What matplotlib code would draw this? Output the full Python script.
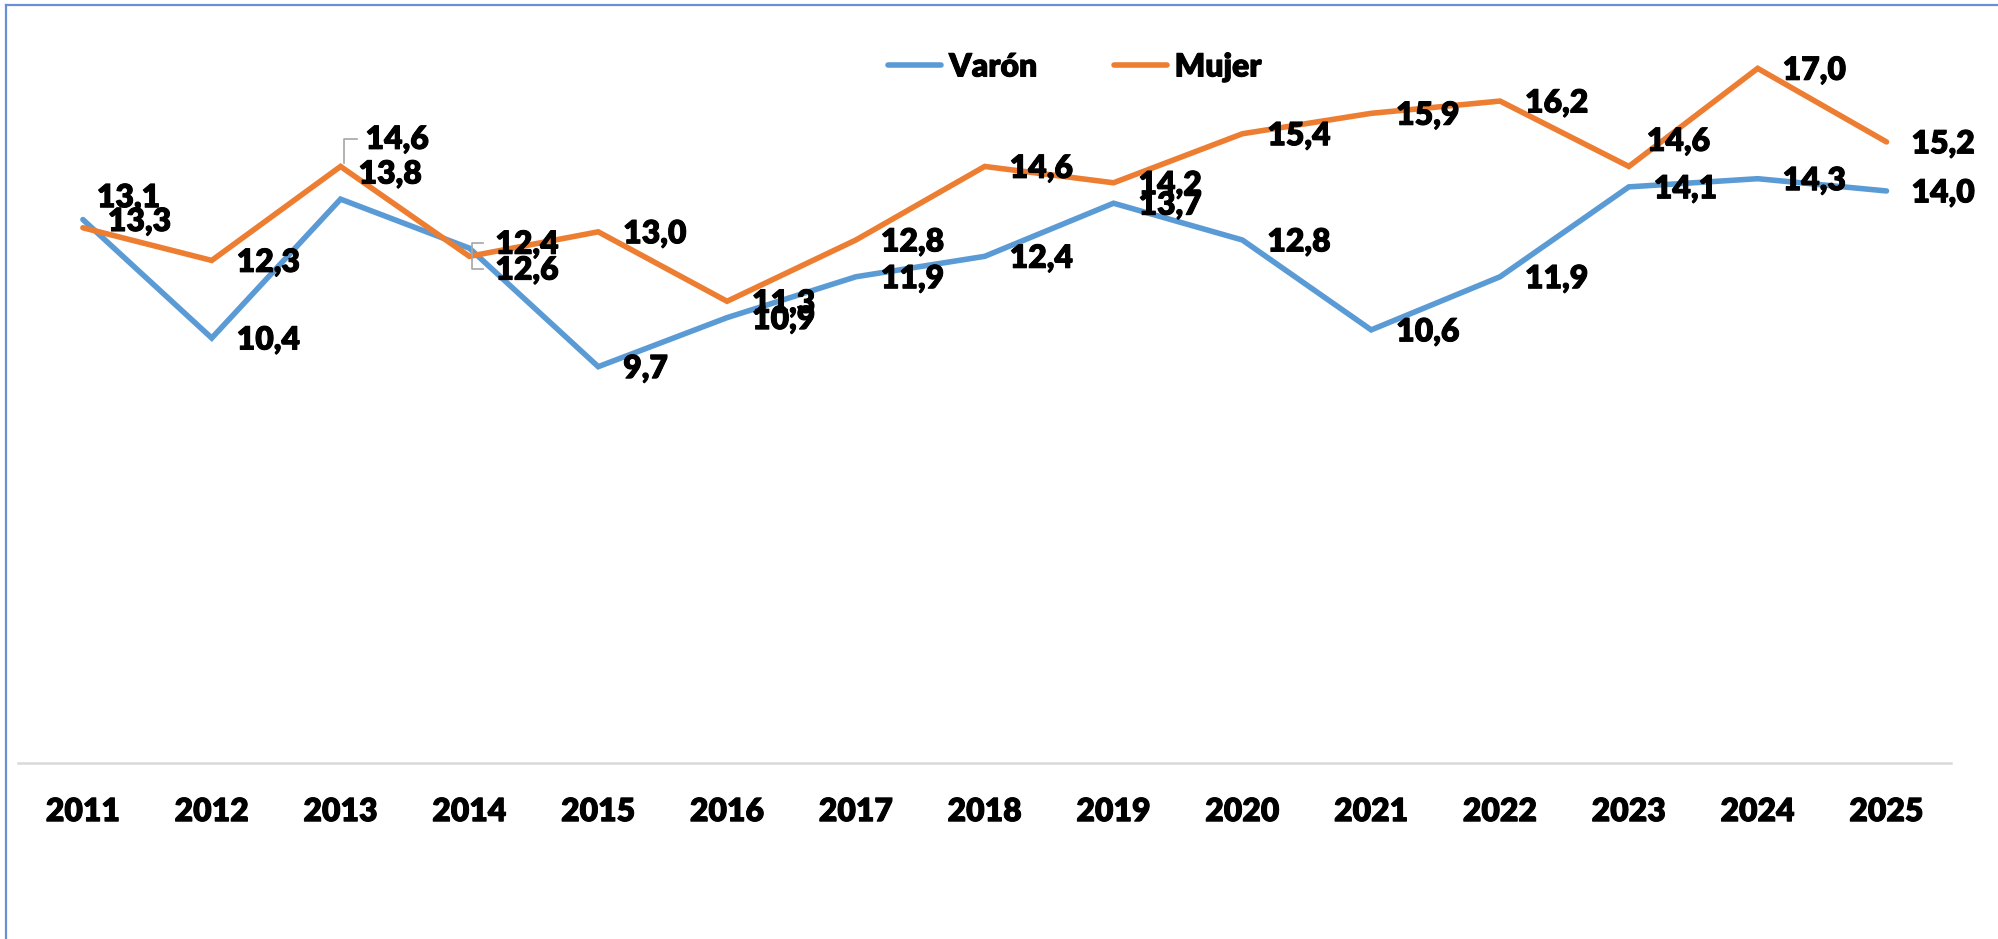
import matplotlib
matplotlib.use("Agg")
import matplotlib.pyplot as plt
import matplotlib.transforms as mtransforms
import matplotlib.patheffects as pe
from matplotlib.lines import Line2D

# datos
years = ["2011", "2012", "2013", "2014", "2015", "2016", "2017", "2018",
         "2019", "2020", "2021", "2022", "2023", "2024", "2025"]
varon = [13.3, 10.4, 13.8, 12.6, 9.7, 10.9, 11.9, 12.4, 13.7, 12.8, 10.6, 11.9, 14.1, 14.3, 14.0]
mujer = [13.1, 12.3, 14.6, 12.4, 13.0, 11.3, 12.8, 14.6, 14.2, 15.4, 15.9, 16.2, 14.6, 17.0, 15.2]

BLUE = "#5B9BD5"
ORANGE = "#ED7D31"
FONT = ["Lato", "DejaVu Sans"]
FS = 23
W = "heavy"
STROKE = [pe.withStroke(linewidth=0.7, foreground="black")]

plt.rcParams["font.family"] = FONT
plt.rcParams["font.weight"] = W

# label offsets in pixels (default is right of the point)
DEFAULT_OFF = (25, -2)
varon_off = {2: (18, 25), 3: (26, -22)}
mujer_off = {0: (14, 30), 2: (25, 27), 3: (26, 12), 12: (18, 25)}
# leader lines: index -> polyline in pixel offsets from the point
varon_lead = {3: [(3, 0), (3, -21), (14, -21)]}
mujer_lead = {2: [(3, 3), (3, 27), (16, 27)],
              3: [(3, 0), (3, 13), (14, 13)]}


def fmt(v):
    return f"{v:.1f}".replace(".", ",")


def labels(ax, vals, offs, leads):
    for i, v in enumerate(vals):
        dx, dy = offs.get(i, DEFAULT_OFF)
        ax.annotate(fmt(v), xy=(i, v), xytext=(dx, dy), textcoords="offset pixels",
                    ha="left", va="center", fontsize=FS, fontweight=W,
                    color="black", zorder=5, path_effects=STROKE)
        if i in leads:
            tr = mtransforms.ScaledTranslation(i, v, ax.transData)
            xs = [p[0] for p in leads[i]]
            ys = [p[1] for p in leads[i]]
            ax.add_line(Line2D(xs, ys, transform=tr, color="#A6A6A6", lw=1.2, zorder=4))


fig = plt.figure(figsize=(19.99, 9.39), dpi=100)
ax = fig.add_axes([0.00925, 0.1874, 0.9667, 0.7833])

x = range(len(years))
ax.plot(x, varon, color=BLUE, lw=4, solid_capstyle="round", solid_joinstyle="miter", label="Varón", zorder=3)
ax.plot(x, mujer, color=ORANGE, lw=4, solid_capstyle="round", solid_joinstyle="miter", label="Mujer", zorder=3)

labels(ax, varon, varon_off, varon_lead)
labels(ax, mujer, mujer_off, mujer_lead)

ax.set_xlim(-0.5, len(years) - 0.5)
ax.set_ylim(0, 18)
ax.set_yticks([])
ax.set_xticks(list(x))
ax.set_xticklabels(years, fontsize=FS, fontweight=W)
for t in ax.get_xticklabels():
    t.set_va("center")
    t.set_path_effects(STROKE)
ax.tick_params(axis="x", length=0, pad=35)
for s in ["top", "right", "left"]:
    ax.spines[s].set_visible(False)
ax.spines["bottom"].set_color("#D9D9D9")
ax.spines["bottom"].set_linewidth(1.8)

leg = fig.legend(loc="center", bbox_to_anchor=(1075 / 1999, 1 - 67 / 939), ncol=2, frameon=False,
                 handlelength=1.65, handletextpad=0.25, columnspacing=2.4,
                 prop={"family": FONT, "weight": W, "size": FS})
for t in leg.get_texts():
    t.set_path_effects(STROKE)

# chart border (top and left edges visible)
fig.add_artist(Line2D([6 / 1999, 6 / 1999], [0, 1 - 5 / 939], color="#6A8FD6", lw=1.6))
fig.add_artist(Line2D([6 / 1999, 1], [1 - 5 / 939, 1 - 5 / 939], color="#6A8FD6", lw=1.6))

fig.savefig("out.png", dpi=100)
